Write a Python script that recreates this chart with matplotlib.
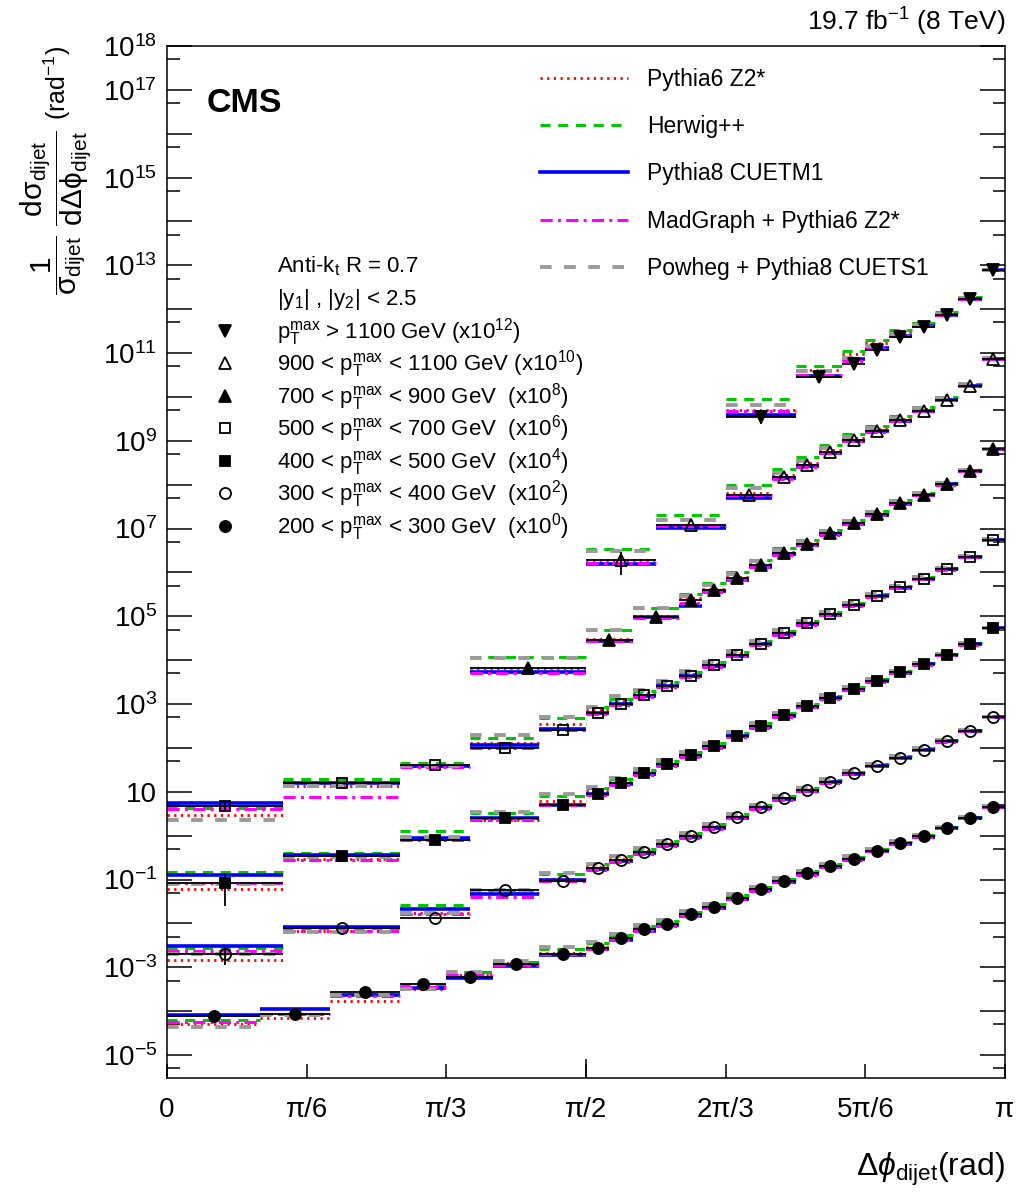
import numpy as np
import matplotlib
matplotlib.use("Agg")
import matplotlib.pyplot as plt
from matplotlib.lines import Line2D
from matplotlib.ticker import FixedLocator, FixedFormatter, NullFormatter

plt.rcParams['font.family'] = ['Liberation Sans', 'DejaVu Sans']
plt.rcParams['mathtext.fontset'] = 'custom'
plt.rcParams['mathtext.rm'] = 'Liberation Sans'
plt.rcParams['mathtext.it'] = 'Liberation Sans:italic'
plt.rcParams['mathtext.bf'] = 'Liberation Sans:bold'
plt.rcParams['mathtext.sf'] = 'Liberation Sans'

# ---------------- data ----------------
# bin edges in units of pi/36
edges_200 = [0, 4, 7, 10, 12, 14, 16, 18, 19, 20, 21, 22, 23, 24, 25, 26, 27, 28, 29, 30, 31, 32, 33, 34, 35, 36]
edges_300 = [0, 5, 10, 13, 16, 18, 19, 20, 21, 22, 23, 24, 25, 26, 27, 28, 29, 30, 31, 32, 33, 34, 35, 36]
edges_400 = [0, 5, 10, 13, 16, 18, 19, 20, 21, 22, 23, 24, 25, 26, 27, 28, 29, 30, 31, 32, 33, 34, 35, 36]
edges_500 = [0, 5, 10, 13, 16, 18, 19, 20, 21, 22, 23, 24, 25, 26, 27, 28, 29, 30, 31, 32, 33, 34, 35, 36]
edges_700 = [13, 18, 20, 22, 23, 24, 25, 26, 27, 28, 29, 30, 31, 32, 33, 34, 35, 36]
edges_900 = [18, 21, 24, 26, 27, 28, 29, 30, 31, 32, 33, 34, 35, 36]
edges_1100 = [24, 27, 29, 30, 31, 32, 33, 34, 35, 36]

# measured normalized cross sections (unscaled)
data_200 = [7.8e-5, 8.5e-5, 2.75e-4, 4.2e-4, 6.0e-4, 1.17e-3, 2.0e-3, 2.8e-3, 4.6e-3, 7.4e-3,
            9.8e-3, 1.62e-2, 2.4e-2, 3.9e-2, 6.0e-2, 9.3e-2, 0.138, 0.204, 0.30, 0.457,
            0.676, 0.977, 1.50, 2.51, 4.47]
data_300 = [2.0e-5, 7.8e-5, 1.35e-4, 5.75e-4, 9.3e-4, 1.82e-3, 2.82e-3, 4.27e-3, 6.46e-3, 1.0e-2,
            1.58e-2, 2.69e-2, 4.47e-2, 7.08e-2, 0.110, 0.170, 0.263, 0.398, 0.603, 0.912,
            1.41, 2.45, 5.01]
data_400 = [8.5e-6, 3.47e-5, 7.9e-5, 2.57e-4, 5.1e-4, 9.1e-4, 1.58e-3, 2.63e-3, 4.27e-3, 6.76e-3,
            1.10e-2, 1.91e-2, 3.16e-2, 5.5e-2, 8.9e-2, 0.138, 0.219, 0.339, 0.525, 0.813,
            1.32, 2.29, 5.37]
data_500 = [4.8e-6, 1.62e-5, 4.07e-5, 9.8e-5, 2.57e-4, 6.2e-4, 1.0e-3, 1.58e-3, 2.63e-3, 4.47e-3,
            7.6e-3, 1.32e-2, 2.34e-2, 4.07e-2, 6.9e-2, 0.112, 0.182, 0.295, 0.457, 0.724,
            1.17, 2.29, 5.5]
data_700 = [6.5e-5, 2.88e-4, 9.8e-4, 2.34e-3, 3.9e-3, 7.4e-3, 1.48e-2, 2.75e-2, 4.47e-2, 7.8e-2,
            0.132, 0.214, 0.38, 0.59, 1.02, 2.04, 6.46]
data_900 = [1.9e-4, 1.2e-3, 5.9e-3, 1.51e-2, 2.82e-2, 5.6e-2, 0.105, 0.17, 0.295, 0.49, 0.85, 1.82, 7.4]
data_1100 = [3.55e-3, 2.88e-2, 5.6e-2, 0.117, 0.229, 0.398, 0.74, 1.70, 7.76]

# relative uncertainties
relerr_200 = [0.03] * 25
relerr_300 = [0.43] + [0.03] * 22
relerr_400 = [0.70] + [0.03] * 22
relerr_500 = [0.20] + [0.03] * 22
relerr_700 = [0.15] + [0.03] * 16
relerr_900 = [0.55] + [0.03] * 12
relerr_1100 = [0.30] + [0.03] * 8

# MC / data ratios
p6_200 = [0.66, 0.82, 0.62, 0.75, 1.10, 1.05, 1.05, 1.05, 1.05, 1.05, 1.05, 1.05, 1.05, 1.05, 1.05, 1.04, 1.04, 1.04, 1.03, 1.03, 1.03, 1.02, 1.02, 1.02, 1.00]
hw_200 = [0.81, 1.00, 0.90, 0.92, 1.30, 1.15, 1.30, 1.25, 1.18, 1.18, 1.15, 1.15, 1.15, 1.15, 1.12, 1.12, 1.12, 1.10, 1.10, 1.08, 1.08, 1.06, 1.05, 1.04, 1.02]
p8_200 = [1.05, 1.30, 0.84, 0.80, 0.95, 0.90, 0.95, 0.95, 0.92, 0.92, 0.93, 0.93, 0.93, 0.94, 0.95, 0.95, 0.96, 0.96, 0.97, 0.97, 0.98, 0.98, 0.99, 1.00, 1.00]
mg_200 = [0.73, 1.00, 0.80, 0.85, 1.10, 0.95, 1.00, 0.95, 0.92, 0.90, 0.90, 0.90, 0.92, 0.92, 0.93, 0.93, 0.94, 0.95, 0.95, 0.96, 0.97, 0.98, 0.98, 0.99, 1.00]
pw_200 = [0.56, 0.95, 0.85, 0.75, 1.30, 1.20, 1.45, 1.35, 1.25, 1.22, 1.20, 1.20, 1.18, 1.18, 1.15, 1.15, 1.14, 1.12, 1.12, 1.10, 1.10, 1.08, 1.07, 1.06, 1.04]

p6_300 = [0.74, 0.88, 1.25, 0.85, 1.10, 1.08, 1.06, 1.06, 1.05, 1.05, 1.05, 1.05, 1.05, 1.04, 1.04, 1.04, 1.03, 1.03, 1.03, 1.02, 1.02, 1.01, 1.00]
hw_300 = [1.40, 1.00, 1.95, 1.00, 1.45, 1.25, 1.20, 1.18, 1.18, 1.15, 1.15, 1.15, 1.14, 1.13, 1.12, 1.12, 1.10, 1.10, 1.08, 1.07, 1.06, 1.05, 1.03]
p8_300 = [1.50, 1.05, 1.55, 0.80, 1.05, 0.97, 0.95, 0.95, 0.95, 0.95, 0.96, 0.96, 0.96, 0.97, 0.97, 0.97, 0.98, 0.98, 0.99, 0.99, 1.00, 1.00, 1.00]
mg_300 = [1.15, 0.85, 1.20, 0.70, 1.00, 0.92, 0.90, 0.90, 0.90, 0.90, 0.91, 0.92, 0.92, 0.93, 0.93, 0.94, 0.95, 0.95, 0.96, 0.97, 0.98, 0.99, 1.00]
pw_300 = [1.00, 0.80, 1.25, 1.00, 1.50, 1.25, 1.22, 1.20, 1.20, 1.18, 1.18, 1.16, 1.15, 1.15, 1.14, 1.13, 1.12, 1.10, 1.09, 1.08, 1.07, 1.05, 1.03]

p6_400 = [0.70, 0.85, 1.05, 0.90, 1.20, 1.12, 1.08, 1.08, 1.06, 1.06, 1.06, 1.05, 1.05, 1.05, 1.04, 1.04, 1.04, 1.03, 1.03, 1.02, 1.02, 1.01, 1.00]
hw_400 = [1.72, 1.19, 1.60, 1.25, 1.60, 1.35, 1.25, 1.22, 1.20, 1.20, 1.18, 1.17, 1.16, 1.15, 1.14, 1.13, 1.12, 1.10, 1.09, 1.08, 1.06, 1.05, 1.03]
p8_400 = [1.50, 1.07, 1.14, 1.00, 1.00, 0.97, 0.96, 0.96, 0.96, 0.96, 0.97, 0.97, 0.97, 0.97, 0.98, 0.98, 0.98, 0.99, 0.99, 0.99, 1.00, 1.00, 1.00]
mg_400 = [0.97, 0.80, 1.03, 0.88, 1.00, 0.92, 0.90, 0.90, 0.90, 0.91, 0.91, 0.92, 0.92, 0.93, 0.94, 0.94, 0.95, 0.96, 0.96, 0.97, 0.98, 0.99, 1.00]
pw_400 = [0.93, 0.95, 1.18, 1.35, 1.75, 1.45, 1.30, 1.25, 1.22, 1.22, 1.20, 1.19, 1.18, 1.16, 1.15, 1.14, 1.12, 1.11, 1.10, 1.08, 1.07, 1.05, 1.03]

p6_500 = [0.62, 0.83, 0.95, 1.30, 1.40, 1.20, 1.15, 1.12, 1.10, 1.10, 1.08, 1.08, 1.07, 1.06, 1.06, 1.05, 1.05, 1.04, 1.04, 1.03, 1.02, 1.01, 1.00]
hw_500 = [0.88, 1.19, 1.10, 1.75, 1.90, 1.35, 1.30, 1.25, 1.22, 1.20, 1.19, 1.18, 1.16, 1.15, 1.14, 1.13, 1.12, 1.10, 1.09, 1.08, 1.06, 1.05, 1.03]
p8_500 = [1.15, 1.00, 0.95, 1.17, 1.08, 1.00, 0.98, 0.97, 0.97, 0.97, 0.97, 0.97, 0.98, 0.98, 0.98, 0.98, 0.99, 0.99, 0.99, 1.00, 1.00, 1.00, 1.00]
mg_500 = [0.83, 0.48, 0.90, 1.00, 1.02, 0.95, 0.93, 0.92, 0.92, 0.92, 0.92, 0.93, 0.93, 0.94, 0.94, 0.95, 0.95, 0.96, 0.97, 0.97, 0.98, 0.99, 1.00]
pw_500 = [0.48, 0.83, 0.95, 2.00, 2.00, 1.40, 1.50, 1.30, 1.25, 1.24, 1.22, 1.20, 1.19, 1.18, 1.16, 1.15, 1.13, 1.12, 1.10, 1.09, 1.07, 1.05, 1.03]

p6_700 = [1.00, 1.05, 1.05, 1.10, 1.10, 1.08, 1.08, 1.07, 1.06, 1.06, 1.05, 1.05, 1.04, 1.03, 1.02, 1.01, 1.00]
hw_700 = [1.80, 1.70, 1.55, 1.40, 1.45, 1.35, 1.30, 1.28, 1.25, 1.22, 1.20, 1.18, 1.15, 1.12, 1.10, 1.06, 1.03]
p8_700 = [0.85, 0.95, 0.97, 0.73, 0.95, 0.90, 0.92, 0.95, 0.95, 0.96, 0.97, 0.97, 0.98, 0.99, 1.00, 1.00, 1.00]
mg_700 = [0.77, 0.93, 0.95, 0.85, 0.90, 0.92, 0.92, 0.93, 0.93, 0.94, 0.95, 0.95, 0.96, 0.97, 0.98, 0.99, 1.00]
pw_700 = [1.75, 1.70, 1.55, 1.25, 1.35, 1.25, 1.22, 1.20, 1.18, 1.16, 1.15, 1.13, 1.12, 1.10, 1.08, 1.05, 1.03]

p6_900 = [1.00, 1.00, 1.10, 1.10, 1.10, 1.12, 1.10, 1.08, 1.07, 1.06, 1.04, 1.02, 1.00]
hw_900 = [1.85, 1.70, 1.70, 1.55, 1.50, 1.40, 1.35, 1.30, 1.25, 1.20, 1.15, 1.08, 1.03]
p8_900 = [0.80, 0.85, 0.85, 0.95, 0.95, 0.95, 0.96, 0.97, 0.98, 0.98, 0.99, 1.00, 1.00]
mg_900 = [0.87, 0.95, 0.97, 0.88, 0.92, 0.93, 0.94, 0.95, 0.96, 0.97, 0.98, 0.99, 1.00]
pw_900 = [1.63, 1.32, 1.40, 1.25, 1.20, 1.20, 1.18, 1.15, 1.13, 1.12, 1.10, 1.06, 1.03]

p6_1100 = [1.40, 1.40, 1.70, 1.45, 1.30, 1.20, 1.12, 1.05, 1.00]
hw_1100 = [2.50, 1.75, 2.00, 1.70, 1.45, 1.25, 1.18, 1.10, 1.03]
p8_1100 = [1.10, 1.03, 1.30, 1.10, 1.05, 1.02, 1.00, 1.00, 1.00]
mg_1100 = [1.35, 1.10, 1.20, 1.10, 1.05, 1.03, 1.00, 1.00, 1.00]
pw_1100 = [1.85, 1.35, 1.35, 1.25, 1.18, 1.12, 1.08, 1.05, 1.02]

scale_exp = [0, 2, 4, 6, 8, 10, 12]
pt_labels = [r'200 < p$_{\mathrm{T}}^{\mathrm{max}}$ < 300 GeV  (x10$^{0}$)',
             r'300 < p$_{\mathrm{T}}^{\mathrm{max}}$ < 400 GeV  (x10$^{2}$)',
             r'400 < p$_{\mathrm{T}}^{\mathrm{max}}$ < 500 GeV  (x10$^{4}$)',
             r'500 < p$_{\mathrm{T}}^{\mathrm{max}}$ < 700 GeV  (x10$^{6}$)',
             r'700 < p$_{\mathrm{T}}^{\mathrm{max}}$ < 900 GeV  (x10$^{8}$)',
             r'900 < p$_{\mathrm{T}}^{\mathrm{max}}$ < 1100 GeV (x10$^{10}$)',
             r'p$_{\mathrm{T}}^{\mathrm{max}}$ > 1100 GeV (x10$^{12}$)']
model_names = ['Pythia6 Z2*', 'Herwig++', 'Pythia8 CUETM1', 'MadGraph + Pythia6 Z2*', 'Powheg + Pythia8 CUETS1']

# ---------------- styles ----------------
model_styles = [
    dict(color='#ff0000', linestyle=(0, (0.8, 1.6)), linewidth=2.0),
    dict(color='#00c800', linestyle=(0, (3.3, 2.5)), linewidth=2.2),
    dict(color='#0000ff', linestyle='solid', linewidth=2.6),
    dict(color='#ff00ff', linestyle=(0, (4.0, 1.7, 1.0, 1.7)), linewidth=2.2),
    dict(color='#9a9a9a', linestyle=(0, (3.0, 3.2)), linewidth=2.8),
]
draw_order = [4, 3, 1, 2, 0]
markers = [dict(marker='o', ms=8.0, mfc='k'),
           dict(marker='o', ms=8.0, mfc='none'),
           dict(marker='s', ms=7.5, mfc='k'),
           dict(marker='s', ms=7.5, mfc='none'),
           dict(marker='^', ms=9.0, mfc='k'),
           dict(marker='^', ms=9.0, mfc='none'),
           dict(marker='v', ms=9.0, mfc='k')]

series = [
    (edges_200, data_200, relerr_200, [p6_200, hw_200, p8_200, mg_200, pw_200]),
    (edges_300, data_300, relerr_300, [p6_300, hw_300, p8_300, mg_300, pw_300]),
    (edges_400, data_400, relerr_400, [p6_400, hw_400, p8_400, mg_400, pw_400]),
    (edges_500, data_500, relerr_500, [p6_500, hw_500, p8_500, mg_500, pw_500]),
    (edges_700, data_700, relerr_700, [p6_700, hw_700, p8_700, mg_700, pw_700]),
    (edges_900, data_900, relerr_900, [p6_900, hw_900, p8_900, mg_900, pw_900]),
    (edges_1100, data_1100, relerr_1100, [p6_1100, hw_1100, p8_1100, mg_1100, pw_1100]),
]

W, H = 1017, 1203
def fx(px):
    return px / W
def fy(py):
    return 1 - py / H

fig = plt.figure(figsize=(W / 100, H / 100), dpi=100)
ax = fig.add_axes([fx(167), fy(1078), (1005 - 167) / W, (1078 - 46) / H])
ax.set_yscale('log')
ax.set_xlim(0, np.pi)
ax.set_ylim(3e-6, 1e18)

for i, (edges, data, relerr, ratios) in enumerate(series):
    e = np.array(edges) * np.pi / 36
    lo, hi = e[:-1], e[1:]
    xc = 0.5 * (lo + hi)
    y = np.array(data) * 10.0 ** scale_exp[i]
    for m in draw_order:
        st = model_styles[m]
        ax.hlines(y * np.array(ratios[m]), lo, hi, colors=st['color'],
                  linestyles=[st['linestyle']], linewidth=st['linewidth'], zorder=2 + 0.1 * m)
    ax.hlines(y, lo, hi, colors='k', linewidth=1.3, zorder=3)
    ax.errorbar(xc, y, yerr=y * np.array(relerr), fmt='none', ecolor='k', elinewidth=1.3, zorder=3)
    mk = markers[i]
    ax.plot(xc, y, linestyle='none', marker=mk['marker'], markersize=mk['ms'],
            markerfacecolor=mk['mfc'], markeredgecolor='k', markeredgewidth=1.3, zorder=4)

# axes styling
for sp in ax.spines.values():
    sp.set_linewidth(1.1)
decades = list(range(-5, 19))
labeled = {18, 17, 15, 13, 11, 9, 7, 5, 3, 1, -1, -3, -5}
ylabels = [('10' if k == 1 else r'$10^{%d}$' % k) if k in labeled else '' for k in decades]
ax.yaxis.set_major_locator(FixedLocator([10.0 ** k for k in decades]))
ax.yaxis.set_major_formatter(FixedFormatter(ylabels))
ax.yaxis.set_minor_locator(FixedLocator([5 * 10.0 ** k for k in range(-6, 18)]))
ax.yaxis.set_minor_formatter(NullFormatter())
ax.tick_params(axis='y', which='major', direction='in', length=18, width=1.1,
               left=True, right=True, labelsize=20, pad=7)
ax.tick_params(axis='y', which='minor', direction='in', length=9, width=1.1, left=True, right=True)

ax.xaxis.remove_overlapping_locs = False
xt = [k * np.pi / 6 for k in range(7)]
ax.xaxis.set_major_locator(FixedLocator(xt))
ax.xaxis.set_major_formatter(FixedFormatter(['0', 'π/6', 'π/3', 'π/2', '2π/3', '5π/6', 'π']))
ax.xaxis.set_minor_locator(FixedLocator([np.pi / 2]))
ax.xaxis.set_minor_formatter(NullFormatter())
ax.tick_params(axis='x', which='major', direction='in', length=10, width=1.1,
               top=False, bottom=True, labelsize=20, pad=14)
ax.tick_params(axis='x', which='minor', direction='in', length=14, width=1.1, top=False)

# labels and titles
fig.text(fx(1005), fy(1176), r'$\Delta\phi_{\mathrm{dijet}}$(rad)', ha='right', va='baseline', fontsize=23)
frac_lab = (r'$\dfrac{1}{\mathrm{\sigma}_{\mathrm{dijet}}}\ \dfrac{\mathrm{d\sigma}_{\mathrm{dijet}}}'
            r'{\mathrm{d\Delta\phi}_{\mathrm{dijet}}}$')
fig.text(fx(56), fy(130), frac_lab, rotation=90, ha='center', va='top', fontsize=21.5)
fig.text(fx(57), fy(46), r'(rad$^{-1}$)', rotation=90, ha='center', va='top', fontsize=18)
fig.text(fx(1005), fy(31), r'19.7 fb$^{-1}$ (8 TeV)', ha='right', va='baseline', fontsize=19)
fig.text(fx(207), fy(112), 'CMS', ha='left', va='baseline', fontsize=24.5, fontweight='bold')

# model legend
leg_y = [78, 125, 172, 220, 267]
for m in range(5):
    st = model_styles[m]
    fig.add_artist(Line2D([fx(540), fx(628)], [fy(leg_y[m]), fy(leg_y[m])], transform=fig.transFigure,
                          color=st['color'], linestyle=st['linestyle'], linewidth=st['linewidth']))
    fig.text(fx(647), fy(leg_y[m] + 8), model_names[m], ha='left', va='baseline', fontsize=16.5)

# selection text and pT legend
fig.text(fx(277), fy(272), r'Anti-k$_{\mathrm{t}}$ R = 0.7', ha='left', va='baseline', fontsize=16)
fig.text(fx(277), fy(305), r'|y$_{1}$| , |y$_{2}$| < 2.5', ha='left', va='baseline', fontsize=16)
row_base = [338.5, 371, 403.5, 436, 468.5, 501, 533.5]
for r in range(7):
    i = 6 - r
    mk = markers[i]
    fig.add_artist(Line2D([fx(225)], [fy(row_base[r] - 8)], transform=fig.transFigure,
                          linestyle='none', marker=mk['marker'], markersize=mk['ms'],
                          markerfacecolor=mk['mfc'], markeredgecolor='k', markeredgewidth=1.3))
    fig.text(fx(277), fy(row_base[r]), pt_labels[i], ha='left', va='baseline', fontsize=16)

fig.savefig('out.png', dpi=100)
